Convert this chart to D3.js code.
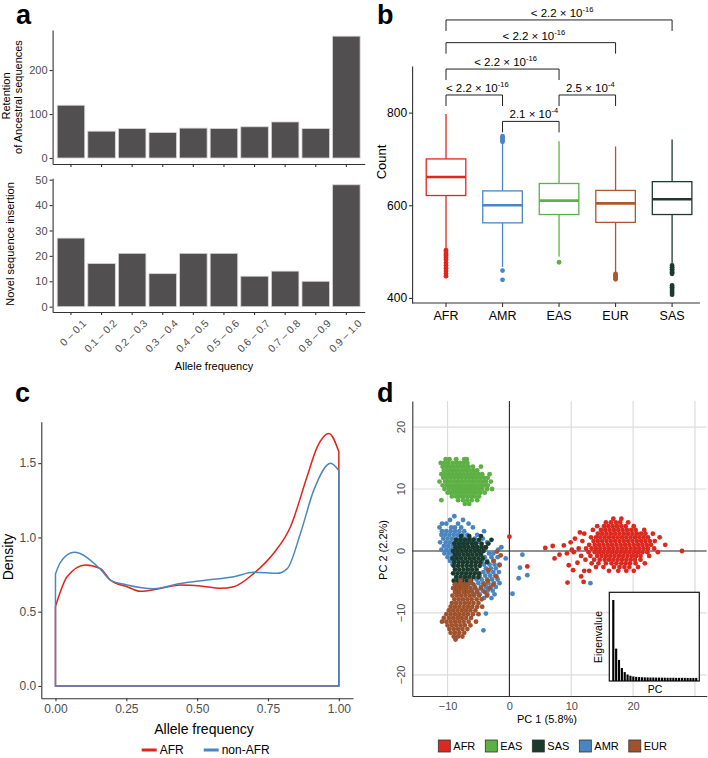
<!DOCTYPE html>
<html>
<head>
<meta charset="utf-8">
<script src="https://cdn.jsdelivr.net/npm/d3@7"></script>
<style>
body { margin: 0; background: #fff; }
</style>
</head>
<body>
<script>
// ---- data ----
const afBins = ["0 \u2013 0.1", "0.1 \u2013 0.2", "0.2 \u2013 0.3", "0.3 \u2013 0.4", "0.4 \u2013 0.5",
                "0.5 \u2013 0.6", "0.6 \u2013 0.7", "0.7 \u2013 0.8", "0.8 \u2013 0.9", "0.9 \u2013 1.0"];
const retention = [120, 61, 67, 58, 68, 67, 71, 82, 67, 277];
const novel = [27, 17, 21, 13, 21, 21, 12, 14, 10, 48];

const pops = ["AFR", "AMR", "EAS", "EUR", "SAS"];
// [lower whisker, q1, median, q3, upper whisker]
const boxStats = [
  [507, 621, 661, 700, 797],
  [467, 562, 600, 631, 734],
  [489, 580, 610, 647, 738],
  [455, 563, 604, 632, 727],
  [475, 580, 613, 651, 742]
];
const outliers = [
  [503, 499, 495, 491, 487, 483, 476, 470, 464, 458, 452, 447],
  [459, 439, 737, 740, 743, 746, 749],
  [477],
  [452, 449, 446, 443, 440],
  [470, 466, 462, 458, 455, 452, 427, 423, 419, 415, 411, 407]
];
const cmpA = ["AFR", "AMR", "AFR", "EAS", "AFR", "AFR"];
const cmpB = ["AMR", "EAS", "EAS", "EUR", "EUR", "SAS"];
const cmpLevel = [838, 781, 894, 838, 951, 1000];
const pMant = ["< 2.2 \u00d7 10", "2.1 \u00d7 10", "< 2.2 \u00d7 10", "2.5 \u00d7 10", "< 2.2 \u00d7 10", "< 2.2 \u00d7 10"];
const pExp = ["-16", "-4", "-16", "-4", "-16", "-16"];

const densAFR = [[0, 0.534], [0.041, 0.735], [0.106, 0.815], [0.159, 0.79], [0.194, 0.713], [0.253, 0.668],
  [0.30, 0.637], [0.365, 0.655], [0.441, 0.68], [0.512, 0.673], [0.582, 0.657], [0.629, 0.668],
  [0.70, 0.758], [0.77, 0.893], [0.829, 1.07], [0.888, 1.41], [0.924, 1.61], [0.965, 1.70], [1.0, 1.577]];
const densNon = [[0, 0.754], [0.017, 0.83], [0.065, 0.90], [0.159, 0.785], [0.194, 0.713], [0.253, 0.68],
  [0.347, 0.655], [0.441, 0.69], [0.535, 0.713], [0.629, 0.735], [0.70, 0.765], [0.782, 0.758],
  [0.818, 0.79], [0.865, 1.03], [0.912, 1.32], [0.971, 1.50], [1.0, 1.45]];

// PCA: rows of [PC2, [PC1 values...]]
const afrRows = [
  [5.2, [16.8, 18.1]],
  [4.6, [15.6, 16.4, 17.2, 17.9, 19.2]],
  [4.0, [14.2, 15.3, 16.0, 16.7, 17.4, 18.1, 18.8, 20.1]],
  [3.4, [13.5, 14.8, 15.5, 16.2, 16.9, 17.6, 18.3, 19.0, 19.7, 20.4, 21.8]],
  [2.8, [12.1, 14.3, 15.0, 15.7, 16.4, 17.1, 17.8, 18.5, 19.2, 19.9, 20.6, 21.3, 22.0, 23.2]],
  [2.2, [13.2, 14.0, 14.7, 15.4, 16.1, 16.8, 17.5, 18.2, 18.9, 19.6, 20.3, 21.0, 21.7, 22.4, 24.3]],
  [1.6, [11.8, 13.6, 14.3, 15.0, 15.7, 16.4, 17.1, 17.8, 18.5, 19.2, 19.9, 20.6, 21.3, 22.0, 22.7, 23.5]],
  [1.0, [12.9, 13.8, 14.5, 15.2, 15.9, 16.6, 17.3, 18.0, 18.7, 19.4, 20.1, 20.8, 21.5, 22.2, 22.9, 25.2]],
  [0.4, [11.2, 12.4, 13.3, 14.0, 14.7, 15.4, 16.1, 16.8, 17.5, 18.2, 18.9, 19.6, 20.3, 21.0, 21.7, 22.4, 23.4]],
  [-0.2, [10.4, 12.8, 13.8, 14.5, 15.2, 15.9, 16.6, 17.3, 18.0, 18.7, 19.4, 20.1, 20.8, 21.5, 22.3, 24.0]],
  [-0.8, [11.6, 13.1, 14.2, 14.9, 15.6, 16.3, 17.0, 17.7, 18.4, 19.1, 19.8, 20.5, 21.2, 22.6]],
  [-1.4, [12.3, 13.7, 14.6, 15.4, 16.1, 16.8, 17.5, 18.2, 18.9, 19.6, 20.3, 21.2]],
  [-2.0, [13.3, 14.4, 15.6, 16.5, 17.3, 18.1, 18.8, 19.5, 20.4, 21.9]],
  [-2.6, [14.0, 15.2, 16.9, 17.8, 18.6, 19.4, 20.8]],
  [-3.2, [12.9, 16.1, 17.6, 18.9, 20.1]]
];
const afrExtra = [[0.0, 2.3], [2.9, -2.5], [5.8, 0.5], [7.0, 0.8], [7.3, -1.2], [8.1, -0.6], [8.8, 0.9],
  [9.3, -0.4], [9.6, -2.3], [9.9, 1.4], [10.1, 0.2], [10.3, -3.1], [10.6, 2.0], [11.0, -1.9], [11.4, 3.0],
  [11.6, -4.1], [12.1, -3.2], [9.4, -5.1], [12.0, -5.0], [27.9, 0.0]];

const easRows = [
  [14.8, [-10.3, -9.7, -8.6, -7.3, -6.9]],
  [14.2, [-11.1, -10.5, -9.9, -9.2, -8.6, -8.0, -7.4, -6.8]],
  [13.6, [-10.8, -10.2, -9.6, -9.0, -8.4, -7.8, -7.2, -6.6, -5.9, -4.6]],
  [13.0, [-10.6, -10.0, -9.4, -8.8, -8.2, -7.6, -7.0, -6.4, -5.8, -5.2]],
  [12.4, [-11.0, -10.4, -9.8, -9.2, -8.6, -8.0, -7.4, -6.8, -6.2, -5.6, -5.0, -4.4, -3.2]],
  [11.8, [-10.7, -10.1, -9.5, -8.9, -8.3, -7.7, -7.1, -6.5, -5.9, -5.3, -4.7, -4.1, -3.5]],
  [11.2, [-11.3, -10.4, -9.8, -9.2, -8.6, -8.0, -7.4, -6.8, -6.2, -5.6, -5.0, -4.4, -3.8, -3.0]],
  [10.6, [-10.8, -10.1, -9.5, -8.9, -8.3, -7.7, -7.1, -6.5, -5.9, -5.3, -4.7, -4.1, -3.5]],
  [10.0, [-10.5, -9.8, -9.2, -8.6, -8.0, -7.4, -6.8, -6.2, -5.6, -5.0, -4.4, -3.6, -2.8]],
  [9.4, [-10.0, -9.5, -8.9, -8.3, -7.7, -7.1, -6.5, -5.9, -5.3, -4.7, -4.0]],
  [8.8, [-9.3, -8.6, -8.0, -7.4, -6.8, -6.2, -5.6, -4.9]],
  [8.2, [-11.0, -8.3, -7.5, -6.8, -6.1, -5.2]],
  [7.6, [-7.2, -6.5]]
];

const amrRows = [
  [5.6, [-8.9]],
  [5.0, [-9.6, -7.5]],
  [4.4, [-10.9, -10.2, -8.3, -6.6]],
  [3.8, [-11.3, -9.4, -8.8, -7.8, -5.9]],
  [3.2, [-10.9, -10.2, -9.5, -8.8, -8.1, -7.3, -4.1]],
  [2.6, [-11.0, -10.4, -9.7, -9.0, -8.3, -7.6, -6.8, -5.2]],
  [2.0, [-10.7, -10.0, -9.3, -8.6, -7.9, -7.2, -6.4, -5.6, -4.3]],
  [1.4, [-11.2, -10.3, -9.6, -8.9, -8.2, -7.5, -6.8, -6.0, -5.2, -3.6]],
  [0.8, [-10.6, -9.9, -9.2, -8.5, -7.8, -7.0, -5.8, -4.5]],
  [0.2, [-11.0, -10.2, -9.5, -8.8, -8.1, -5.2, -3.9, -1.8]],
  [-0.4, [-10.5, -9.8, -9.1, -8.4, -4.6, -3.3, -2.6]],
  [-1.0, [-10.0, -9.3, -8.6, -4.0, -2.9, -1.9]],
  [-1.6, [-9.6, -8.9, -4.4, -3.6, -2.5]],
  [-2.2, [-9.2, -4.1, -3.2, -2.4, -1.6]],
  [-2.8, [-3.8, -3.0, -2.2]],
  [-3.4, [-4.2, -3.4, -2.6, -1.7]],
  [-4.0, [-4.8, -3.9, -3.1, -2.3]],
  [-4.6, [-5.3, -4.5, -3.6, -2.8, -1.9]],
  [-5.2, [-6.2, -5.0, -4.2, -3.4, -2.5, -1.6]],
  [-5.8, [-5.6, -4.6, -3.8, -3.0, -2.2]],
  [-6.4, [-6.1, -5.2, -4.3, -3.5, -2.7]],
  [-7.0, [-5.7, -4.8, -3.6, -2.4]],
  [-7.6, [-4.1, -2.9]]
];
const amrExtra = [[-1.3, 0.6], [-0.6, -1.2], [2.1, -0.6], [1.7, -2.7], [2.9, -3.9], [1.5, -4.4],
  [0.5, -6.9], [13.1, -5.2], [-3.8, -10.1], [-4.2, -12.8], [-8.3, -10.7]];

const sasRows = [
  [2.4, [-7.8, -6.5, -4.6]],
  [1.8, [-8.6, -7.9, -7.2, -6.5, -5.8, -4.9, -2.9]],
  [1.2, [-8.9, -8.2, -7.5, -6.8, -6.1, -5.4, -4.5, -3.4]],
  [0.6, [-8.7, -8.0, -7.3, -6.6, -5.9, -5.2, -4.5, -3.8]],
  [0.0, [-9.1, -8.4, -7.7, -7.0, -6.3, -5.6, -4.9, -4.2]],
  [-0.6, [-8.8, -8.1, -7.4, -6.7, -6.0, -5.3, -4.6]],
  [-1.2, [-9.2, -8.5, -7.8, -7.1, -6.4, -5.7, -5.0, -4.3]],
  [-1.8, [-8.9, -8.2, -7.5, -6.8, -6.1, -5.4, -4.7, -3.6]],
  [-2.4, [-9.0, -8.3, -7.6, -6.9, -6.2, -5.5, -4.8]],
  [-3.0, [-8.8, -8.1, -7.4, -6.7, -6.0, -5.3]],
  [-3.6, [-9.1, -8.4, -7.7, -7.0, -6.3, -5.6, -4.9]],
  [-4.2, [-8.6, -7.9, -7.2, -6.5, -5.8, -5.0]],
  [-4.8, [-9.0, -8.3, -7.6, -6.9, -6.2]],
  [-5.4, [-8.8, -8.1, -7.4, -6.7]],
  [-6.0, [-8.5, -7.8, -7.0]],
  [-6.6, [-8.2, -7.3]]
];

const eurRows = [
  [-4.8, [-7.9, -6.3, -3.5]],
  [-5.4, [-8.8, -8.1, -7.4, -6.7, -5.8, -4.1, -2.6]],
  [-6.0, [-9.1, -8.4, -7.7, -7.0, -6.3, -5.5, -4.6, -3.2]],
  [-6.6, [-8.8, -8.1, -7.4, -6.7, -6.0, -5.2, -4.0]],
  [-7.2, [-9.2, -8.5, -7.8, -7.1, -6.4, -5.7, -4.9, -3.6]],
  [-7.8, [-8.9, -8.2, -7.5, -6.8, -6.1, -5.3, -4.5]],
  [-8.4, [-9.3, -8.6, -7.9, -7.2, -6.5, -5.8, -5.0]],
  [-9.0, [-9.5, -8.8, -8.1, -7.4, -6.7, -6.0, -5.2, -4.4]],
  [-9.6, [-9.8, -9.1, -8.4, -7.7, -7.0, -6.3, -5.5]],
  [-10.2, [-10.2, -9.5, -8.8, -8.1, -7.4, -6.7, -5.9, -5.0]],
  [-10.8, [-10.6, -9.8, -9.1, -8.4, -7.7, -7.0, -6.2]],
  [-11.4, [-10.9, -10.2, -9.5, -8.8, -8.1, -7.4, -6.6, -5.4]],
  [-12.0, [-10.0, -9.3, -8.6, -7.9, -7.2, -6.3]],
  [-12.6, [-9.7, -9.0, -8.3, -7.6, -6.8]],
  [-13.2, [-9.5, -8.8, -8.1, -7.3]],
  [-13.8, [-9.0, -8.3, -7.6]],
  [-14.3, [-8.7]]
];
const eurExtra = [[-2.0, -0.1], [-1.4, -0.7], [-2.6, -1.6], [-3.4, -3.1], [-2.1, -4.1], [-1.6, -2.3]];

const legendPops = ["AFR", "EAS", "SAS", "AMR", "EUR"];
const eigen = [100, 40, 26, 16, 11, 8, 6.5, 5.6, 5.1, 4.8, 4.6, 4.5, 4.4, 4.3, 4.3,
               4.2, 4.2, 4.1, 4.1, 4.0, 4.0, 4.0, 3.9, 3.9, 3.9, 3.9, 3.8, 3.8, 3.8, 3.8];

// ---- setup ----
const font = "'Liberation Sans', Arial, Helvetica, sans-serif";
const boxColor = { AFR: "#e2261d", AMR: "#4a86c1", EAS: "#5bb346", EUR: "#b0552f", SAS: "#1e3a30" };
const pcColor = { AFR: "#dc281e", AMR: "#4a85bf", EAS: "#5db044", EUR: "#a0522d", SAS: "#1b3a2e" };
const gray = "#4d4d4d";

const svg = d3.select("body").append("svg")
    .attr("width", 708)
    .attr("height", 758)
    .style("font-family", font);

function styleAxis(g, color, size) {
  g.attr("font-family", font).attr("font-size", size);
  g.selectAll(".domain").attr("stroke", "#333").attr("stroke-width", 1.1);
  g.selectAll(".tick line").attr("stroke", "#333").attr("stroke-width", 1.1);
  g.selectAll(".tick text").attr("fill", color);
}

function panelLabel(t, x, y) {
  svg.append("text").attr("x", x).attr("y", y)
      .style("font-size", "27px").style("font-weight", "bold").text(t);
}

function vtext(t, x, y, size, color) {
  svg.append("text")
      .attr("transform", `translate(${x},${y}) rotate(-90)`)
      .attr("text-anchor", "middle")
      .attr("dy", "0.35em")
      .style("font-size", size + "px")
      .attr("fill", color || "#000")
      .text(t);
}

const rows = r => r.flatMap(([y, xs]) => xs.map(x => [x, y]));

// ---- panel a ----
panelLabel("a", 16, 24);
const xA = d3.scaleBand().domain(afBins).range([52.6, 364.7]).paddingInner(0.1).paddingOuter(0.15);
const yTop = d3.scaleLinear().domain([-13.6, 291]).range([164, 30]);
const yBot = d3.scaleLinear().domain([-2.1, 50.55]).range([312, 178.3]);

function bars(vals, y) {
  svg.append("g").selectAll("rect").data(vals).join("rect")
      .attr("x", (d, i) => xA(afBins[i]))
      .attr("width", xA.bandwidth())
      .attr("y", d => y(d))
      .attr("height", d => y(0) - y(d))
      .attr("fill", "#524f50")
      .attr("stroke", "#d6d6d6")
      .attr("stroke-width", 0.8);
}
bars(retention, yTop);
bars(novel, yBot);

svg.append("g").attr("transform", "translate(0,164)")
    .call(d3.axisBottom(xA).tickSize(3).tickSizeOuter(0).tickFormat(""))
    .call(g => styleAxis(g, gray, 11));
svg.append("g").attr("transform", "translate(52.6,0)")
    .call(d3.axisLeft(yTop).tickValues([0, 100, 200]).tickSize(3).tickPadding(2).tickSizeOuter(0))
    .call(g => styleAxis(g, gray, 11));
svg.append("g").attr("transform", "translate(0,312)")
    .call(d3.axisBottom(xA).tickSize(3).tickSizeOuter(0))
    .call(g => styleAxis(g, gray, 10.5))
    .call(g => g.selectAll(".tick text")
        .attr("y", 0).attr("dy", 0)
        .attr("text-anchor", "end")
        .attr("transform", "translate(16,12) rotate(-45)"));
svg.append("g").attr("transform", "translate(52.6,0)")
    .call(d3.axisLeft(yBot).tickValues([0, 10, 20, 30, 40, 50]).tickSize(3).tickPadding(2).tickSizeOuter(0))
    .call(g => styleAxis(g, gray, 11));

vtext("Retention", 6, 96, 11);
vtext("of Ancestral sequences", 18, 97, 11);
vtext("Novel sequence insertion", 10, 244, 11);
svg.append("text").attr("x", 214).attr("y", 370).attr("text-anchor", "middle")
    .style("font-size", "11px").text("Allele frequency");

// ---- panel b ----
panelLabel("b", 377, 24);
const xB = d3.scaleBand().domain(pops).range([412.1, 706]).paddingInner(0).paddingOuter(0.1);
const yB = d3.scaleLinear().domain([389, 900.6]).range([303, 66]);
const bw = xB.bandwidth() * 0.7;

pops.forEach((p, i) => {
  const s = boxStats[i];
  const cx = xB(p) + xB.bandwidth() / 2;
  const g = svg.append("g").attr("stroke", boxColor[p]).attr("fill", "none");
  g.append("line").attr("x1", cx).attr("x2", cx).attr("y1", yB(s[0])).attr("y2", yB(s[1])).attr("stroke-width", 1.3);
  g.append("line").attr("x1", cx).attr("x2", cx).attr("y1", yB(s[3])).attr("y2", yB(s[4])).attr("stroke-width", 1.3);
  g.append("rect").attr("x", cx - bw / 2).attr("width", bw)
      .attr("y", yB(s[3])).attr("height", yB(s[1]) - yB(s[3]))
      .attr("fill", "#fff").attr("stroke-width", 1.3);
  g.append("line").attr("x1", cx - bw / 2).attr("x2", cx + bw / 2)
      .attr("y1", yB(s[2])).attr("y2", yB(s[2])).attr("stroke-width", 2.6);
  svg.append("g").selectAll("circle").data(outliers[i]).join("circle")
      .attr("cx", cx).attr("cy", d => yB(d)).attr("r", 2.4).attr("fill", boxColor[p]);
});

svg.append("g").attr("transform", "translate(0,303)")
    .call(d3.axisBottom(xB).tickSize(4).tickSizeOuter(0).tickPadding(4))
    .call(g => styleAxis(g, "#000", 12.5))
    .call(g => g.select(".domain").attr("d", "M412.1,0H700"));
svg.append("g").attr("transform", "translate(412.1,0)")
    .call(d3.axisLeft(yB).tickValues([400, 600, 800]).tickSize(3).tickPadding(2).tickSizeOuter(0))
    .call(g => styleAxis(g, "#000", 12));
vtext("Count", 381, 162, 13);

// significance brackets
cmpA.forEach((a, i) => {
  const x1 = xB(a) + xB.bandwidth() / 2;
  const x2 = xB(cmpB[i]) + xB.bandwidth() / 2;
  const y = yB(cmpLevel[i]);
  svg.append("path")
      .attr("d", `M${x1},${y + 11}V${y}H${x2}V${y + 11}`)
      .attr("fill", "none").attr("stroke", "#222").attr("stroke-width", 1);
  const t = svg.append("text").attr("x", (x1 + x2) / 2 + 3).attr("y", y - 3)
      .attr("text-anchor", "middle").style("font-size", "11.5px");
  t.append("tspan").text(pMant[i]);
  t.append("tspan").attr("dy", -5).style("font-size", "7.5px").text(pExp[i]);
});

// ---- panel c ----
panelLabel("c", 15, 402);
const xC = d3.scaleLinear().domain([-0.05, 1.05]).range([41.3, 353]);
const yC = d3.scaleLinear().domain([-0.083, 1.779]).range([698.3, 421.7]);
const dLine = d3.line().x(d => xC(d[0])).y(d => yC(d[1])).curve(d3.curveMonotoneX);

function densPath(data) {
  return `M${xC(0)},${yC(0)}L` + dLine(data).slice(1) + `L${xC(1)},${yC(0)}Z`;
}
svg.append("path").attr("d", densPath(densAFR)).attr("fill", "none")
    .attr("stroke", "#e2231a").attr("stroke-width", 1.5);
svg.append("path").attr("d", densPath(densNon)).attr("fill", "none")
    .attr("stroke", "#4a87c0").attr("stroke-width", 1.5);

svg.append("g").attr("transform", "translate(0,698.3)")
    .call(d3.axisBottom(xC).tickValues([0, 0.25, 0.5, 0.75, 1]).tickFormat(d3.format(".2f"))
        .tickSize(3).tickPadding(3).tickSizeOuter(0))
    .call(g => styleAxis(g, gray, 12));
svg.append("g").attr("transform", "translate(41.3,0)")
    .call(d3.axisLeft(yC).tickValues([0, 0.5, 1, 1.5]).tickFormat(d3.format(".1f"))
        .tickSize(3).tickPadding(2).tickSizeOuter(0))
    .call(g => styleAxis(g, gray, 12));
vtext("Density", 8, 557, 14);
svg.append("text").attr("x", 204).attr("y", 734).attr("text-anchor", "middle")
    .style("font-size", "14px").text("Allele frequency");

// legend c
const legC = [["AFR", "#e2231a"], ["non-AFR", "#4a87c0"]];
let lx = 141.7;
legC.forEach(([name, col]) => {
  svg.append("line").attr("x1", lx).attr("x2", lx + 15).attr("y1", 750).attr("y2", 750)
      .attr("stroke", col).attr("stroke-width", 3);
  const t = svg.append("text").attr("x", lx + 18).attr("y", 750).attr("dy", "0.35em")
      .style("font-size", "12px").text(name);
  lx += 18 + t.node().getComputedTextLength() + 20;
});

// ---- panel d ----
panelLabel("d", 377, 402);
const xD = d3.scaleLinear().domain([-15.7, 31.9]).range([412.3, 706.7]);
const yD = d3.scaleLinear().domain([-23.4, 24.2]).range([696, 401]);

const gridG = svg.append("g").attr("stroke", "#dcdcdc").attr("stroke-width", 1.2);
[-10, 10, 20, 30].forEach(v => gridG.append("line")
    .attr("x1", xD(v)).attr("x2", xD(v)).attr("y1", yD.range()[0]).attr("y2", yD.range()[1]));
[-20, -10, 10, 20].forEach(v => gridG.append("line")
    .attr("y1", yD(v)).attr("y2", yD(v)).attr("x1", xD.range()[0]).attr("x2", xD.range()[1]));
svg.append("line").attr("x1", xD(0)).attr("x2", xD(0)).attr("y1", yD.range()[0]).attr("y2", yD.range()[1])
    .attr("stroke", "#222").attr("stroke-width", 1.1);
svg.append("line").attr("y1", yD(0)).attr("y2", yD(0)).attr("x1", xD.range()[0]).attr("x2", xD.range()[1])
    .attr("stroke", "#222").attr("stroke-width", 1.1);

const pcSets = [
  ["AFR", rows(afrRows).concat(afrExtra)],
  ["EAS", rows(easRows)],
  ["AMR", rows(amrRows).concat(amrExtra)],
  ["SAS", rows(sasRows)],
  ["EUR", rows(eurRows).concat(eurExtra)]
];
pcSets.forEach(([p, pts]) => {
  svg.append("g").selectAll("circle").data(pts).join("circle")
      .attr("cx", d => xD(d[0])).attr("cy", d => yD(d[1]))
      .attr("r", 2.4).attr("fill", pcColor[p]);
});

svg.append("g").attr("transform", "translate(0,696)")
    .call(d3.axisBottom(xD).tickValues([-10, 0, 10, 20]).tickFormat(d => d < 0 ? "\u2212" + (-d) : d)
        .tickSize(0).tickPadding(6).tickSizeOuter(0))
    .call(g => styleAxis(g, gray, 11));
svg.append("g").attr("transform", "translate(412.3,0)")
    .call(d3.axisLeft(yD).tickValues([]).tickSize(0).tickSizeOuter(0))
    .call(g => styleAxis(g, gray, 11));
[-20, -10, 0, 10, 20].forEach(v => {
  svg.append("text")
      .attr("transform", `translate(401,${yD(v)}) rotate(-90)`)
      .attr("text-anchor", "middle").attr("dy", "0.35em")
      .attr("fill", gray).style("font-size", "11px")
      .text(v < 0 ? "\u2212" + (-v) : v);
});
svg.append("text").attr("x", 547).attr("y", 723).attr("text-anchor", "middle")
    .style("font-size", "11px").text("PC 1 (5.8%)");
vtext("PC 2 (2.2%)", 383, 550, 11);

// inset scree plot
svg.append("rect").attr("x", 609.3).attr("y", 592.3).attr("width", 90).attr("height", 88.7)
    .attr("fill", "#fff").attr("stroke", "#111").attr("stroke-width", 1.2);
const xS = d3.scaleBand().domain(d3.range(1, eigen.length + 1)).range([611.5, 698]).padding(0.25);
const yS = d3.scaleLinear().domain([0, 100]).range([681, 600]);
svg.append("g").selectAll("rect").data(eigen).join("rect")
    .attr("x", (d, i) => xS(i + 1)).attr("width", xS.bandwidth())
    .attr("y", d => yS(d)).attr("height", d => yS(0) - yS(d))
    .attr("fill", "#000");
vtext("Eigenvalue", 598, 637, 10.5);
svg.append("text").attr("x", 655).attr("y", 689).attr("dy", "0.35em").attr("text-anchor", "middle")
    .style("font-size", "10.5px").text("PC");

// legend d
let dx = 438.3;
legendPops.forEach(p => {
  svg.append("rect").attr("x", dx).attr("y", 740).attr("width", 12).attr("height", 12)
      .attr("fill", pcColor[p]).attr("stroke", "#333").attr("stroke-width", 0.8);
  const t = svg.append("text").attr("x", dx + 15).attr("y", 746).attr("dy", "0.35em")
      .style("font-size", "11px").text(p);
  dx += 15 + t.node().getComputedTextLength() + 10;
});
</script>
</body>
</html>
